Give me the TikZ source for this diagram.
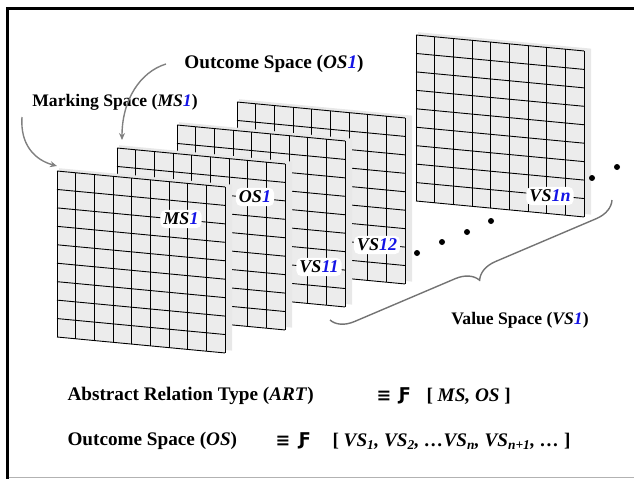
\documentclass[tikz,border=0pt]{standalone}
\usepackage{fontspec}
\setmainfont{Liberation Serif}
\newfontfamily\symfam{DejaVu Sans}
\usepackage{xcolor}
\usepackage{tikz}
\usetikzlibrary{arrows.meta,decorations.pathreplacing}

\newcommand\spacepanel[2]{%
  \begin{scope}[shift={(#1,#2)},yslant=-0.095]
    \fill[black!9] (2,-3) rectangle (175,163);
    \fill[cellgray] (0,0) rectangle (168,166);
    \foreach \k in {0,...,9} {
      \draw[gridline] (\k*18.667,0) -- (\k*18.667,166);
      \draw[gridline] (0,\k*18.444) -- (168,\k*18.444);
    }
  \end{scope}}

\begin{document}
\begin{tikzpicture}[x=1pt,y=-1pt,
  gridline/.style={black,line width=0.9pt},
  lbl/.style={fill=white,rounded corners=5pt,inner sep=3pt,font=\fontsize{18}{21}\selectfont\bfseries\itshape},
  caption/.style={font=\fontsize{17.6}{21}\selectfont\bfseries},
  bigcaption/.style={font=\fontsize{19.2}{23}\selectfont\bfseries},
  curarrow/.style={black!50,line width=1.4pt,-{Stealth[length=7pt,width=6pt]}},
  vdot/.style={fill=black}]
\definecolor{cellgray}{RGB}{236,236,236}
\definecolor{cnum}{RGB}{20,20,230}
\useasboundingbox (0,0) rectangle (634,479);
\draw[line width=3pt] (634,8.5) -- (7,8.5) -- (7,479);
\draw[black!30,line width=1pt] (8.5,477.5) -- (634,477.5);
\spacepanel{416}{35}
\spacepanel{237}{102}
\spacepanel{177}{125}
\spacepanel{117}{148}
\spacepanel{57}{171}
\node[lbl] (ms1) at (181,219) {MS\textcolor{cnum}{1}};
\node[lbl] (os1) at (255,197) {OS\textcolor{cnum}{1}};
\node[lbl] (vs11) at (319,267) {VS\textcolor{cnum}{11}};
\node[lbl] (vs12) at (377,245) {VS\textcolor{cnum}{12}};
\node[lbl] (vs1n) at (550,196) {VS\textcolor{cnum}{1n}};
\fill[vdot] (417,253) circle (3);
\fill[vdot] (442,242) circle (3);
\fill[vdot] (467,232) circle (3);
\fill[vdot] (491,221) circle (3);
\fill[vdot] (592,178) circle (3);
\fill[vdot] (617,167) circle (3);
\node[caption] (mslbl) at (115,102) {Marking Space (\textit{MS\textcolor{cnum}{1}})};
\node[bigcaption] (oslbl) at (274,64) {Outcome Space (\textit{OS\textcolor{cnum}{1}})};
\node[caption] (vslbl) at (520,320) {Value Space (\textit{VS\textcolor{cnum}{1}})};
\coordinate (msfrom) at (22,117);
\coordinate (msto) at (57,166);
\coordinate (osfrom) at (166,64);
\coordinate (osto) at (122,140);
\draw[curarrow] (msfrom) .. controls (20,145) and (35,160) .. (msto);
\draw[curarrow] (osfrom) .. controls (140,72) and (122,100) .. (osto);
\coordinate (bracea) at (330,320);
\coordinate (braceb) at (612,200);
\draw[black!55,line width=1.4pt,decorate,decoration={brace,mirror,amplitude=22pt}] (bracea) -- (braceb);
\node[bigcaption,anchor=west] (artl) at (64,396) {Abstract Relation Type (\textit{ART})};
\node[caption] (arteq) at (384,396) {\symfam\bfseries ≡};
\node[caption] (artf) at (405,396) {\symfam\bfseries Ƒ};
\node[bigcaption,anchor=west] (artr) at (423,396) {[ \textit{MS, OS} ]};
\node[bigcaption,anchor=west] (osl) at (64,441) {Outcome Space (\textit{OS})};
\node[caption] (oseq) at (283,441) {\symfam\bfseries ≡};
\node[caption] (osf) at (305,441) {\symfam\bfseries Ƒ};
\node[bigcaption,anchor=west] (osr) at (329,441) {[ \textit{VS\textsubscript{1}, VS\textsubscript{2}, \dots VS\textsubscript{n}, VS\textsubscript{n+1}, \dots} ]};
\end{tikzpicture}
\end{document}
